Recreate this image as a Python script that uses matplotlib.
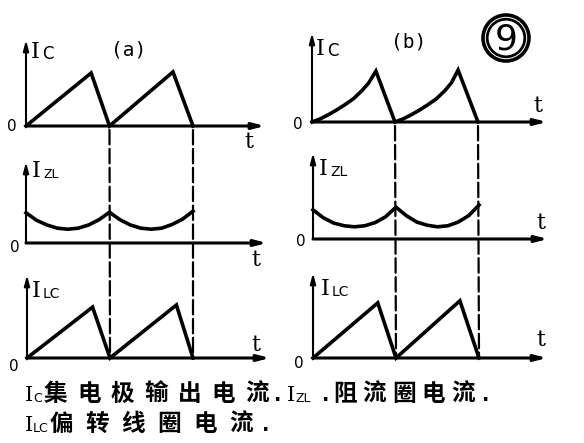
import matplotlib
matplotlib.use('Agg')
import matplotlib.pyplot as plt
from matplotlib.patches import Circle, ConnectionPatch

W, H = 584, 443

# ---------------- data (time in periods, current in relative units) ----------------
ic_a_t = [0, 0.78, 1.0, 1.76, 2.0]
ic_a_v = [0, 1.00, 0, 1.02, 0]
izl_a_t = [0, 0.125, 0.25, 0.375, 0.5, 0.625, 0.75, 0.875, 1.0,
           1.125, 1.25, 1.375, 1.5, 1.625, 1.75, 1.875, 2.0]
izl_a_v = [0.57, 0.43, 0.34, 0.28, 0.26, 0.28, 0.34, 0.44, 0.58,
           0.44, 0.34, 0.28, 0.26, 0.28, 0.35, 0.45, 0.60]
ilc_a_t = [0, 0.79, 1.0, 1.80, 2.0]
ilc_a_v = [0, 0.96, 0, 1.00, 0]

ic_b_t = [0, 0.1, 0.2, 0.3, 0.4, 0.5, 0.6, 0.68, 0.77,
          1.0, 1.1, 1.2, 1.3, 1.4, 1.5, 1.6, 1.68, 1.76, 2.0]
ic_b_v = [0, 0.06, 0.14, 0.23, 0.33, 0.44, 0.59, 0.73, 0.96,
          0, 0.06, 0.14, 0.23, 0.33, 0.44, 0.59, 0.74, 0.98, 0]
izl_b_t = [0, 0.125, 0.25, 0.375, 0.5, 0.625, 0.75, 0.875, 1.0,
           1.125, 1.25, 1.375, 1.5, 1.625, 1.75, 1.875, 2.0]
izl_b_v = [0.55, 0.40, 0.30, 0.25, 0.23, 0.25, 0.31, 0.42, 0.60,
           0.44, 0.32, 0.26, 0.23, 0.25, 0.32, 0.44, 0.64]
ilc_b_t = [0, 0.78, 1.0, 1.77, 2.0]
ilc_b_v = [0, 1.04, 0, 1.08, 0]

period_marks = [1.0, 2.0]
panel_titles = ['(a)', '(b)']
figure_number = '9'
caption_line1 = ['I', 'C', '集电极输出电流', '.', 'I', 'ZL', '.', '阻流圈电流', '.']
caption_line2 = ['I', 'LC', '偏转线圈电流', '.']

# layout of caption pieces: (kind, x position px, pitch px)
caption_layout1 = [('I', 25, 0), ('sub', 33, 0), ('cjk', 40, 33.5), ('dot', 274, 0),
                   ('I', 287, 0), ('sub', 295, 0), ('dot', 322, 0), ('cjk', 331, 29.5), ('dot', 482, 0)]
caption_layout2 = [('I', 25, 0), ('sub', 33, 0), ('cjk', 44, 36), ('dot', 262, 0)]

CJK = ['Noto Sans CJK SC', 'DejaVu Sans']
plt.rcParams['font.family'] = ['DejaVu Sans', 'Noto Sans CJK SC']

fig = plt.figure(figsize=(W / 100, H / 100), dpi=100)
fig.patch.set_facecolor('white')

# overlay in pixel coordinates for text / decorations
ov = fig.add_axes([0, 0, 1, 1])
ov.set_xlim(0, W)
ov.set_ylim(H, 0)
ov.axis('off')
ov.patch.set_visible(False)


def panel(x0, y0, xe, yt, P, U, t, v, lw_y=1.5):
    ax = fig.add_axes([x0 / W, 1 - y0 / H, (xe - x0) / W, (y0 - yt) / H])
    xmax = (xe - x0) / P
    ymax = (y0 - yt) / U
    ax.set_xlim(0, xmax)
    ax.set_ylim(0, ymax)
    ax.axis('off')
    ax.patch.set_visible(False)
    ax.annotate('', xy=(xmax, 0), xytext=(0, 0), annotation_clip=False,
                arrowprops=dict(arrowstyle='-|>,head_length=0.7,head_width=0.18',
                                lw=2.2, color='k', shrinkA=0, shrinkB=0))
    ax.annotate('', xy=(0, ymax), xytext=(0, 0), annotation_clip=False,
                arrowprops=dict(arrowstyle='-|>,head_length=0.6,head_width=0.16',
                                lw=lw_y, color='k', shrinkA=0, shrinkB=0))
    ax.plot(t, v, color='k', lw=2.6, clip_on=False, solid_joinstyle='miter')
    return ax


U = 53
a1 = panel(26, 126, 265, 40, 83.5, U, ic_a_t, ic_a_v)
a2 = panel(26, 243, 267, 162, 83.5, U, izl_a_t, izl_a_v)
a3 = panel(27, 358, 270, 275, 83.0, U, ilc_a_t, ilc_a_v)
b1 = panel(312, 122, 547, 33, 83.0, U, ic_b_t, ic_b_v)
b2 = panel(313, 239, 548, 153, 83.0, U, izl_b_t, izl_b_v)
b3 = panel(313, 358, 547, 273, 83.0, U, ilc_b_t, ilc_b_v)

# dashed period markers spanning the three panels
for top, bot in [(a1, a3), (b1, b3)]:
    for tm in period_marks:
        cp = ConnectionPatch(xyA=(tm, -4 / U), coordsA='data', axesA=top,
                             xyB=(tm, 0), coordsB='data', axesB=bot,
                             color='k', lw=1.6, linestyle=(0, (6.5, 2.0)))
        cp.set_annotation_clip(False)
        fig.add_artist(cp)


def cur_label(x, y, sub, isize=16, ssize=10, gap=10):
    ov.text(x, y, 'I', family='DejaVu Serif', fontsize=isize, ha='left', va='baseline')
    ov.text(x + gap, y + 1, sub, family='DejaVu Sans', fontsize=ssize, ha='left', va='baseline')


cur_label(31, 58, 'C', ssize=12, gap=11)
cur_label(316, 55, 'C', ssize=12, gap=11)
cur_label(32, 177, 'ZL', ssize=9, gap=11)
cur_label(319, 175, 'ZL', ssize=10, gap=11)
cur_label(32, 297, 'LC', ssize=10, gap=11)
cur_label(321, 295, 'LC', ssize=10, gap=11)

for x, y in [(12, 131), (15, 252), (14, 371), (298, 129), (301, 246), (299, 368)]:
    ov.text(x, y, '0', fontsize=11, ha='center', va='baseline')
for x, y in [(249, 148), (256, 266), (256, 351), (538, 112), (541, 229), (541, 346)]:
    ov.text(x, y, 't', family='DejaVu Serif', fontsize=16, ha='center', va='baseline')

ov.text(129, 50, panel_titles[0], family='DejaVu Sans Mono', fontsize=14, ha='center', va='center')
ov.text(409, 42, panel_titles[1], family='DejaVu Sans Mono', fontsize=14, ha='center', va='center')

# circled figure number
ov.add_patch(Circle((506, 38), 23, fill=False, lw=2.6, ec='k'))
ov.add_patch(Circle((506, 38), 18.8, fill=False, lw=2.0, ec='k'))
ov.text(506, 39, figure_number, fontsize=26, ha='center', va='center')


def caption(texts, layout, y):
    for s, (kind, x, pitch) in zip(texts, layout):
        if kind == 'I':
            ov.text(x, y, s, family='DejaVu Serif', fontsize=15, ha='left', va='baseline')
        elif kind == 'sub':
            ov.text(x, y + 1, s, family='DejaVu Sans', fontsize=9, ha='left', va='baseline')
        elif kind == 'dot':
            ov.text(x, y, s, family='DejaVu Sans', fontsize=14, fontweight='bold',
                    ha='left', va='baseline')
        else:
            for i, ch in enumerate(s):
                ov.text(x + pitch * i + pitch / 2 - 1, y, ch, family=CJK, fontsize=17,
                        fontweight='bold', ha='center', va='baseline')


caption(caption_line1, caption_layout1, 401)
caption(caption_line2, caption_layout2, 431)

fig.savefig('out.png', dpi=100, facecolor='white')
